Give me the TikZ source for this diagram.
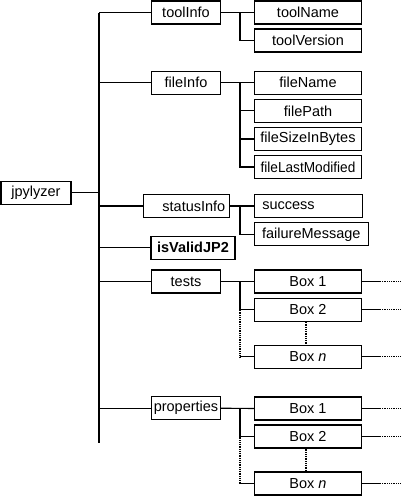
\documentclass[tikz,border=0pt]{standalone}
\usepackage{fontspec}
\usepackage{graphicx}
\setmainfont{Liberation Sans}
\begin{document}
\begin{tikzpicture}[x=1pt,y=-1pt,
  bx/.style={draw, line width=1.1pt, rectangle, inner sep=0pt, minimum height=23pt,
    font=\fontsize{14.5}{17}\selectfont},
  pw/.style={bx, minimum width=69pt},
  cw/.style={bx, minimum width=107pt},
  ln/.style={line width=1.1pt},
  dt/.style={line width=1.1pt, dash pattern=on 1pt off 0.8pt}]
\useasboundingbox (0,0) rectangle (400,496);
% root
\node[bx, minimum width=70pt] (jp) at (36,192.7) {jpylyzer};
% level 1
\node[pw] (tI) at (186,12.5) {toolInfo};
\node[pw] (fI) at (186,82.7) {fileInfo};
\node[bx, text width=78pt, align=right, inner xsep=4pt] (sI) at (186.3,206) {statusInfo};
\node[bx, minimum width=84pt, font=\fontsize{14.5}{17}\selectfont\bfseries] (iv) at (193,247.8) {isValidJP2};
\node[pw] (te) at (186,281.5) {tests};
\node[pw] (pr) at (186,408.2) {properties};
% level 2: toolInfo
\node[cw] (tN) at (308,12.5) {toolName};
\node[cw] (tV) at (308,40.5) {toolVersion};
% fileInfo
\node[cw] (fN) at (308,82.7) {fileName};
\node[cw] (fP) at (308,110.9) {filePath};
\node[cw] (fS) at (308,139) {fileSizeInBytes};
\node[cw] (fL) at (308,167) {\scalebox{0.94}[1]{fileLastModified}};
% statusInfo
\node[bx, text width=92pt, align=left, inner xsep=8pt] (sc) at (308.3,206) {success};
\node[bx, minimum width=114pt] (fm) at (311.3,234.3) {failureMessage};
% tests
\node[cw] (t1) at (308,281.5) {Box 1};
\node[cw] (t2) at (308,309.7) {Box 2};
\node[cw] (tn) at (308,356.7) {Box \textit{n}};
% properties
\node[cw] (p1) at (308,408.5) {Box 1};
\node[cw] (p2) at (308,436.5) {Box 2};
\node[cw] (pn) at (308,483.5) {Box \textit{n}};
% coordinates
\coordinate (mtop) at (99,12.5);
\coordinate (mbot) at (99,443);
\coordinate (sb) at (240,0);
\coordinate (st) at (380,0);
\coordinate (se) at (400,0);
% main bus
\draw[ln] (mtop) -- (mbot);
\draw[ln] (jp.east) -- (jp.east -| mtop);
\foreach \n in {tI,fI,sI,iv,te,pr} \draw[ln] (mtop |- \n) -- (\n.west);
% parent to first child
\draw[ln] (tI.east) -- (tN.west);
\draw[ln] (fI.east) -- (fN.west);
\draw[ln] (sI.east) -- (sc.west);
\draw[ln] (te.east) -- (t1.west);
\draw[ln] (pr.east) -- (p1.west);
% sub buses
\draw[ln] (sb |- tI) |- (tV.west);
\draw[ln] (sb |- fI) |- (fL.west);
\draw[ln] (sb |- fP) -- (fP.west);
\draw[ln] (sb |- fS) -- (fS.west);
\draw[ln] (sb |- sI) |- (fm.west);
\draw[ln] (sb |- te) |- (t2.west);
\draw[dt] (sb |- t2) -- (sb |- tn);
\draw[ln] (sb |- tn) -- (tn.west);
\draw[ln] (sb |- pr) |- (p2.west);
\draw[dt] (sb |- p2) -- (sb |- pn);
\draw[ln] (sb |- pn) -- (pn.west);
% between box 2 and box n
\draw[dt] ([xshift=-2pt]t2.south) -- ([xshift=-2pt]tn.north);
\draw[dt] ([xshift=-2pt]p2.south) -- ([xshift=-2pt]pn.north);
% right stubs
\foreach \n in {t1,t2,tn,p1,p2,pn} {
  \draw[ln] (\n.east) -- (st |- \n);
  \draw[dt] (st |- \n) -- (se |- \n);
}
\end{tikzpicture}
\end{document}
